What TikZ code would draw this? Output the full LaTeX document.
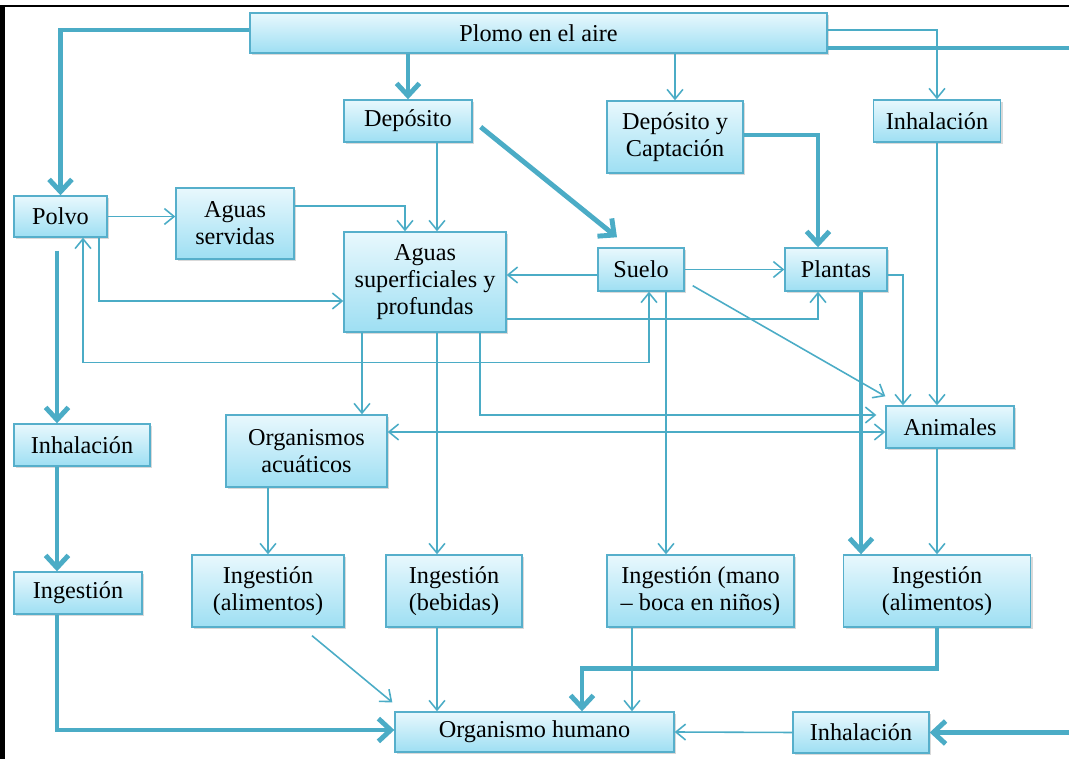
\documentclass[tikz,border=0pt]{standalone}
\usepackage{fontspec}
\setmainfont{Liberation Serif}
\usepackage{tikz}
\usetikzlibrary{arrows.meta, positioning, shadows}
\definecolor{flowc}{RGB}{75,172,198}
\definecolor{boxline}{RGB}{86,175,203}
\definecolor{boxtop}{RGB}{232,248,253}
\definecolor{boxbot}{RGB}{158,223,243}
\tikzstyle{box} = [rectangle, draw=boxline, line width=0.8pt, top color=boxtop, bottom color=boxbot, align=center, inner sep=1pt, font=\fontsize{13.8}{15.5}\selectfont, drop shadow={shadow xshift=1.2pt, shadow yshift=-1.2pt, opacity=0.3}]
\tikzstyle{flow} = [draw=flowc, line width=0.9pt, -{Straight Barb[length=5.5pt,width=9pt]}]
\tikzstyle{flowboth} = [flow, {Straight Barb[length=5.5pt,width=9pt]}-{Straight Barb[length=5.5pt,width=9pt]}]
\tikzstyle{bigflow} = [draw=flowc, line width=2.8pt, -{Straight Barb[length=7pt,width=13pt]}]

\begin{document}
\begin{tikzpicture}[x=0.02cm, y=-0.02cm]
			\useasboundingbox (0,0) rectangle (1069,759);
			\draw [line width=2.8pt] (2.5,759) -- (2.5,6);
			\draw [line width=1.2pt] (0,6) -- (1069,6);

			\node [box, minimum width=11.54cm, minimum height=0.8cm] (plomo) at (538.5,33) {Plomo en el aire};
			\node [box, minimum width=2.56cm, minimum height=0.84cm] (dep) at (408,121) {Depósito};
			\node [box, minimum width=2.72cm, minimum height=1.44cm] (depcap) at (675,137) {Depósito y\\Captación};
			\node [box, minimum width=2.54cm, minimum height=0.84cm] (inhT) at (937,121) {Inhalación};
			\node [box, minimum width=1.86cm, minimum height=0.82cm] (polvo) at (60.5,216.5) {Polvo};
			\node [box, minimum width=2.36cm, minimum height=1.42cm] (agserv) at (235,223.5) {Aguas\\servidas};
			\node [box, minimum width=3.24cm, minimum height=2cm] (agsup) at (425,282) {Aguas\\superficiales y\\profundas};
			\node [box, minimum width=1.72cm, minimum height=0.86cm] (suelo) at (641,269.5) {Suelo};
			\node [box, minimum width=2.04cm, minimum height=0.86cm] (plantas) at (836,269.5) {Plantas};
			\node [box, minimum width=2.56cm, minimum height=0.84cm] (anim) at (950,427) {Animales};
			\node [box, minimum width=3.22cm, minimum height=1.44cm] (orgacu) at (306.5,451) {Organismos\\acuáticos};
			\node [box, minimum width=2.72cm, minimum height=0.84cm] (inhL) at (82,445) {Inhalación};
			\node [box, minimum width=2.56cm, minimum height=0.84cm] (ingL) at (78,593) {Ingestión};
			\node [box, minimum width=3.04cm, minimum height=1.44cm] (ingalimL) at (268,591) {Ingestión\\(alimentos)};
			\node [box, minimum width=2.72cm, minimum height=1.44cm] (ingbeb) at (454,591) {Ingestión\\(bebidas)};
			\node [box, minimum width=3.74cm, minimum height=1.44cm] (ingmano) at (700.5,591) {Ingestión (mano\\-- boca en niños)};
			\node [box, minimum width=3.74cm, minimum height=1.44cm] (ingalimR) at (937,591) {Ingestión\\(alimentos)};
			\node [box, minimum width=5.58cm, minimum height=0.8cm] (orghum) at (534.5,732) {Organismo humano};
			\node [box, minimum width=2.72cm, minimum height=0.82cm] (inhB) at (861,732.5) {Inhalación};
			\coordinate (rim) at (1071,48);

			% from the air
			\path [bigflow] (plomo.west |- 0,30) -| (polvo.north);
			\path [bigflow] (plomo.south -| dep.north) -- (dep.north);
			\path [flow] (plomo.south -| depcap.north) -- (depcap.north);
			\path [flow] ([shift={(0,-3)}]plomo.east) -| (inhT.north);
			\path [bigflow] ([shift={(0,15)}]plomo.east) -- (rim) |- (inhB.east);

			\path [bigflow] ([shift={(8,6)}]dep.east) -- ([shift={(-24,-10)}]suelo.north);
			\path [flow] ([shift={(29,0)}]dep.south) -- ([shift={(12,0)}]agsup.north);
			\path [bigflow] ([shift={(0,-2)}]depcap.east) -| ([shift={(-18,0)}]plantas.north);

			% polvo, aguas, suelo
			\path [flow] (polvo.east) -- (polvo.east -| agserv.west);
			\path [flow] ([shift={(0,-17.5)}]agserv.east) -| ([shift={(-20,0)}]agsup.north);
			\path [flow] ([shift={(38.5,0)}]polvo.south) |- ([shift={(0,19)}]agsup.west);
			\path [flowboth] ([shift={(22.5,0)}]polvo.south) -- ++(0,125) -| ([shift={(8,0)}]suelo.south);
			\path [flow] ([shift={(0,5.5)}]suelo.west) -- ([shift={(0,-7)}]agsup.east);
			\path [flow] (suelo.east) -- (plantas.west);
			\path [flow] ([shift={(0,37)}]agsup.east) -| ([shift={(-18,0)}]plantas.south);
			\path [flow] ([shift={(8,-6)}]suelo.south east) -- ([shift={(0,-9)}]anim.north west);
			\path [flow] ([shift={(0,5.5)}]plantas.east) -| ([shift={(-47,0)}]anim.north);
			\path [flow] (inhT.south) -- (inhT.south |- anim.north);
			\path [bigflow] ([shift={(25,0)}]plantas.south) -- ([shift={(-76,0)}]ingalimR.north);

			% to the lower row
			\path [flow] ([shift={(-63,0)}]agsup.south) -- ([shift={(55.5,0)}]orgacu.north);
			\path [flow] ([shift={(12,0)}]agsup.south) -- ([shift={(-17,0)}]ingbeb.north);
			\path [flow] ([shift={(55,0)}]agsup.south) |- ([shift={(-9,-12)}]anim.west);
			\path [flowboth] ([shift={(0,-19)}]orgacu.east) -- ([shift={(0,5)}]anim.west);
			\path [flow] ([shift={(25,0)}]suelo.south) -- ([shift={(-34.5,0)}]ingmano.north);
			\path [flow] ([shift={(-13,0)}]anim.south) -- (ingalimR.north);
			\path [flow] ([shift={(-38.5,0)}]orgacu.south) -- (ingalimL.north);
			\path [bigflow] ([shift={(-3.5,13)}]polvo.south) -- ([shift={(-25,0)}]inhL.north);
			\path [bigflow] ([shift={(-25,0)}]inhL.south) -- ([shift={(-21,0)}]ingL.north);

			% into the human body
			\path [bigflow] ([shift={(-21,0)}]ingL.south) |- ([shift={(0,-2)}]orghum.west);
			\path [flow] ([shift={(44,8)}]ingalimL.south) -- ([shift={(-2,-9)}]orghum.north west);
			\path [flow] ([shift={(-17,0)}]ingbeb.south) -- ([shift={(-97.5,0)}]orghum.north);
			\path [flow] ([shift={(-68.5,0)}]ingmano.south) -- ([shift={(97.5,0)}]orghum.north);
			\path [bigflow] (ingalimR.south) -- ++(0,41) -| ([shift={(47.5,0)}]orghum.north);
			\path [flow] (inhB.west) -- (orghum.east);
\end{tikzpicture}
\end{document}
